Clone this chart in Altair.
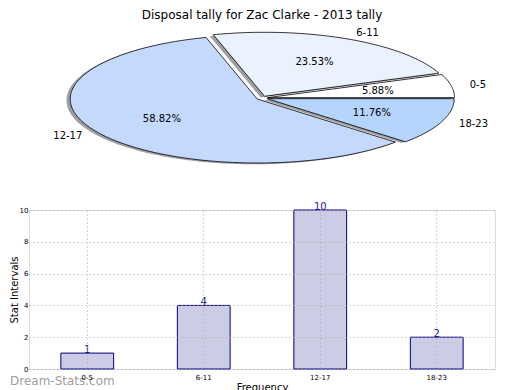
import altair as alt
import numpy as np
import pandas as pd

# ---- data ----
categories = ["0-5", "6-11", "12-17", "18-23"]
counts = [1, 4, 10, 2]
pie_colors = ["#ffffff", "#ebf2ff", "#c5d9ff", "#b5d5ff"]
title_text = "Disposal tally for Zac Clarke - 2013 tally"
watermark = "Dream-Stats.com"
y_ticks = [0, 2, 4, 6, 8, 10]

# ---- pie geometry (derived from counts) ----
explode = 0.03
total = float(sum(counts))
rows, shadow_rows, lab_rows = [], [], []
start = 0.0
for cat, c in zip(categories, counts):
    span = 360.0 * c / total
    t1, t2 = start, start + span
    mid = np.deg2rad((t1 + t2) / 2)
    dx, dy = explode * np.cos(mid), explode * np.sin(mid)
    angs = np.deg2rad(np.linspace(t1, t2, max(int(span), 2) + 1))
    pts = [(dx, dy)] + [(dx + np.cos(a), dy + np.sin(a)) for a in angs] + [(dx, dy)]
    for i, (px, py) in enumerate(pts):
        rows.append({"cat": cat, "i": i, "x": px, "y": py})
        shadow_rows.append({"scat": cat, "i": i, "x": px - 0.02, "y": py - 0.02})
    lab_rows.append({
        "cat": cat,
        "lx": dx + 1.1 * np.cos(mid), "ly": dy + 1.1 * np.sin(mid),
        "px": dx + 0.6 * np.cos(mid), "py": dy + 0.6 * np.sin(mid),
        "pct": f"{100.0 * c / total:.2f}%",
        "side": "L" if np.cos(mid) > 0 else "R",
    })
    start = t2

wedges = pd.DataFrame(rows)
shadows = pd.DataFrame(shadow_rows)
labels = pd.DataFrame(lab_rows)

# ---- layout constants ----
W = 466
PIE_H = 175
BAR_H = 159
RX, RY = 187.0, 64.0
CX, CY = 233.0, 74.0   # pie centre in plot-area pixels
xdom = [-CX / RX, (W - CX) / RX]
ydom = [(CY - PIE_H) / RY, CY / RY]

FONT = "DejaVu Sans"


def sx(field):
    return alt.X(field, scale=alt.Scale(domain=xdom, nice=False, zero=False), axis=None)


def sy(field):
    return alt.Y(field, scale=alt.Scale(domain=ydom, nice=False, zero=False), axis=None)


shadow_layer = alt.Chart(shadows).mark_line(
    strokeWidth=0, fill="#3c3f47", fillOpacity=0.5
).encode(x=sx("x:Q"), y=sy("y:Q"), detail="scat:N", order="i:Q")
wedge_layer = alt.Chart(wedges).mark_line(stroke="black", strokeWidth=0.8).encode(
    x=sx("x:Q"), y=sy("y:Q"),
    fill=alt.Fill("cat:N", scale=alt.Scale(domain=categories, range=pie_colors), legend=None),
    order="i:Q",
)
lab_base = alt.Chart(labels)
lab_left = lab_base.transform_filter(alt.datum.side == "L").mark_text(
    align="left", baseline="middle", fontSize=10, font=FONT, color="black"
).encode(x=sx("lx:Q"), y=sy("ly:Q"), text="cat:N")
lab_right = lab_base.transform_filter(alt.datum.side == "R").mark_text(
    align="right", baseline="middle", fontSize=10, font=FONT, color="black"
).encode(x=sx("lx:Q"), y=sy("ly:Q"), text="cat:N")
pct_layer = lab_base.mark_text(
    align="center", baseline="middle", fontSize=10, font=FONT, color="black"
).encode(x=sx("px:Q"), y=sy("py:Q"), text="pct:N")

pie = alt.layer(shadow_layer, wedge_layer, pct_layer, lab_left, lab_right).properties(
    width=W, height=PIE_H,
    view=alt.ViewBackground(stroke="transparent"),
    title=alt.TitleParams(title_text, fontSize=12, font=FONT, fontWeight="normal",
                          anchor="middle", offset=2, color="black"),
)

# ---- bar chart ----
bars_df = pd.DataFrame({"cat": categories, "count": counts})
bx = alt.X("cat:N", sort=categories,
           scale=alt.Scale(paddingInner=0.547, paddingOuter=0.2735),
           axis=alt.Axis(title="Frequency", labelAngle=0, labelFontSize=7, labelFont=FONT,
                         labelColor="black", titleColor="black",
                         titleFont=FONT, titleFontSize=10, titleFontWeight="normal",
                         titlePadding=2, labelPadding=4, ticks=False, domain=False,
                         grid=True, gridDash=[1, 3], gridColor="#a8a8a8", gridOpacity=1,
                         bandPosition=0.5, zindex=1))
by = alt.Y("count:Q", scale=alt.Scale(domain=[0, 10], nice=False),
           axis=alt.Axis(title="Stat Intervals", values=y_ticks, labelFontSize=7,
                         labelColor="black", titleColor="black", labelOverlap=False,
                         labelFont=FONT, titleFont=FONT, titleFontSize=10,
                         titleFontWeight="normal", titlePadding=0, labelPadding=1,
                         ticks=False, domain=False, grid=True, gridDash=[1, 3],
                         gridColor="#a8a8a8", gridOpacity=1, zindex=1))
bar_base = alt.Chart(bars_df)
bar_layer = bar_base.mark_bar(fill="#cccce5", stroke="#000080", strokeWidth=1).encode(x=bx, y=by)
val_layer = bar_base.mark_text(baseline="alphabetic", dy=0, fontSize=10, font=FONT,
                               color="#1a1a8c").encode(x=bx, y=by, text="count:Q")
wm_layer = alt.Chart(pd.DataFrame({"t": [watermark]})).mark_text(
    align="left", baseline="alphabetic", fontSize=12, font=FONT, color="#a0a0a0"
).encode(x=alt.value(-19), y=alt.value(BAR_H + 16), text="t:N")

bar = alt.layer(bar_layer, val_layer, wm_layer).properties(width=W, height=BAR_H)

chart = alt.vconcat(pie, bar, spacing=1).configure_view(
    stroke="black", strokeWidth=1
).configure(font=FONT, padding=0)

chart.save("out.html", embed_options={"renderer": "svg", "actions": False})
